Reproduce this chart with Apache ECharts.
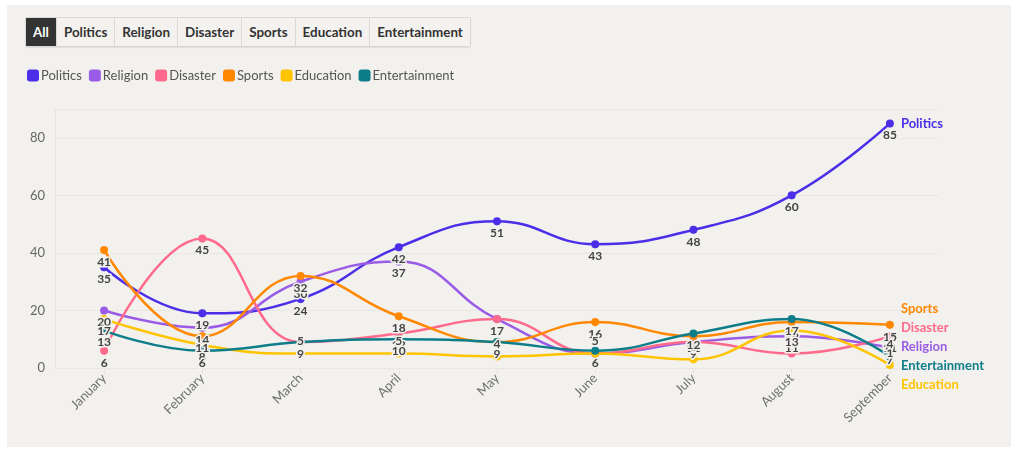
<!DOCTYPE html>
<html>
<head>
<meta charset="utf-8">
<script src="https://cdn.jsdelivr.net/npm/echarts@6/dist/echarts.min.js"></script>
<style>
  html, body { margin: 0; padding: 0; background: #ffffff; }
  body { width: 1018px; height: 450px; position: relative; overflow: hidden; font-family: Lato, "Open Sans", sans-serif; }
  #panel { position: absolute; left: 7px; top: 5px; width: 1004px; height: 442px; background: #f2f1ee; }
  #chart { position: absolute; left: 0; top: 0; width: 1018px; height: 450px; }
  #filters { position: absolute; left: 25px; top: 17px; display: flex; border: 1px solid #d9d8d4; border-radius: 2px; box-shadow: 0 1px 1px rgba(0,0,0,0.08); z-index: 2; }
  #filters div { height: 28px; line-height: 28px; padding: 0 7px; font-size: 13.4px; font-weight: 700; color: #333; background: #f3f2ef; border-left: 1px solid #dcdbd7; box-sizing: border-box; }
  #filters div:first-child { border-left: none; background: #333333; color: #ffffff; }
</style>
</head>
<body>
<div id="panel"></div>
<div id="filters">
  <div>All</div><div>Politics</div><div>Religion</div><div>Disaster</div><div>Sports</div><div>Education</div><div>Entertainment</div>
</div>
<div id="chart"></div>
<script>
// Months on the x axis
const months = ['January', 'February', 'March', 'April', 'May', 'June', 'July', 'August', 'September'];

// Mentions per topic and month
const politics      = [35, 19, 24, 42, 51, 43, 48, 60, 85];
const religion      = [20, 14, 30, 37, 17, 5, 9, 11, 7];
const disaster      = [6, 45, 9, 12, 17, 5, 9, 5, 11];
const sports        = [41, 11, 32, 18, 9, 16, 11, 16, 15];
const education     = [17, 8, 5, 5, 4, 5, 3, 13, 1];
const entertainment = [13, 6, 9, 10, 9, 6, 12, 17, 4];

const yTicks = [0, 20, 40, 60, 80];

const topics = [
  { name: 'Politics', values: politics, color: '#4b2ee8' },
  { name: 'Religion', values: religion, color: '#9a5ce6' },
  { name: 'Disaster', values: disaster, color: '#ff6a8c' },
  { name: 'Sports', values: sports, color: '#ff8800' },
  { name: 'Education', values: education, color: '#ffc400' },
  { name: 'Entertainment', values: entertainment, color: '#0e7d8a' }
];

const BG = '#f2f1ee';
const chart = echarts.init(document.getElementById('chart'), null, { renderer: 'canvas' });

const series = topics.map(t => ({
  name: t.name,
  type: 'line',
  smooth: 0.45,
  symbol: 'circle',
  symbolSize: 8,
  color: t.color,
  lineStyle: { width: 2.5, color: t.color },
  itemStyle: { color: t.color },
  // small values get their label above the point so it stays inside the plot
  data: t.values.map(v => ({ value: v, label: { position: v <= 5 ? 'top' : 'bottom' } })),
  label: {
    show: true,
    distance: 2,
    fontFamily: 'Lato',
    fontSize: 12,
    fontWeight: 'bold',
    color: '#444',
    textBorderColor: BG,
    textBorderWidth: 3
  },
  endLabel: {
    show: true,
    formatter: '{a}',
    distance: 11,
    fontFamily: 'Lato',
    fontSize: 13,
    fontWeight: 'bold',
    color: t.color,
    lineHeight: 19
  },
  labelLine: { show: true, length2: 4, lineStyle: { color: '#c4c3bf', width: 1.2 } },
  // end labels of the low cluster are spread around their common centre
  labelLayout: function (p) {
    if (p.text !== t.name) return {};
    const low = t.values[t.values.length - 1] < 40;
    return low ? { moveOverlap: 'shiftY', dy: -16 } : { moveOverlap: 'shiftY' };
  },
  emphasis: { disabled: true }
}));

chart.setOption({
  animation: false,
  backgroundColor: 'transparent',
  textStyle: { fontFamily: 'Lato' },
  legend: {
    left: 22,
    top: 64,
    icon: 'roundRect',
    itemWidth: 12,
    itemHeight: 12,
    itemGap: 7,
    textStyle: { color: '#555', fontSize: 13, fontFamily: 'Lato', padding: [0, 0, 0, -3] },
    data: topics.map(t => t.name)
  },
  grid: { left: 55, right: 79, top: 109, bottom: 82 },
  xAxis: {
    type: 'category',
    data: months,
    boundaryGap: true,
    axisLine: { show: false },
    axisTick: { show: true, alignWithLabel: true, length: 6, lineStyle: { color: '#e4e3df' } },
    axisLabel: { rotate: 45, color: '#6f6f6f', fontSize: 13, margin: 8, fontFamily: 'Lato' }
  },
  yAxis: {
    type: 'value',
    min: 0,
    max: 90,
    interval: 20,
    axisLine: { show: true, lineStyle: { color: '#e6e5e1' } },
    axisTick: { show: false },
    axisLabel: {
      color: '#666', fontSize: 13, margin: 10, fontFamily: 'Lato',
      showMaxLabel: false,
      formatter: v => (yTicks.indexOf(v) >= 0 ? String(v) : '')
    },
    splitLine: { lineStyle: { color: '#e8e7e3' } }
  },
  series: series
});
</script>
</body>
</html>
